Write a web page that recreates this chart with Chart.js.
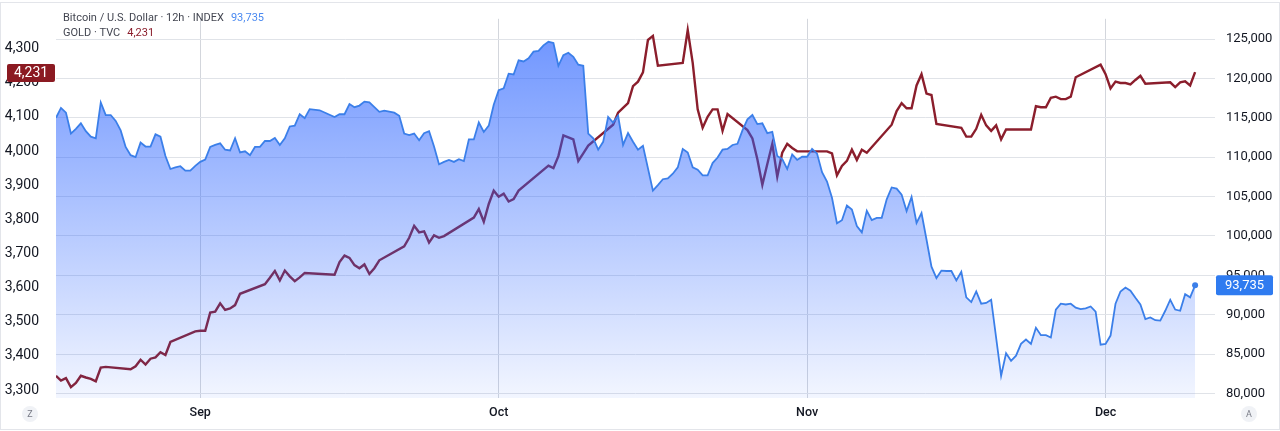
<!DOCTYPE html>
<html>
<head>
<meta charset="utf-8">
<title>Bitcoin vs Gold</title>
<script src="https://cdn.jsdelivr.net/npm/chart.js@4.4.0/dist/chart.umd.min.js"></script>
<style>
  html, body { margin: 0; padding: 0; background: #fff; }
  canvas { display: block; }
</style>
</head>
<body>
<canvas id="chart" width="1280" height="431"></canvas>
<script>
// Days counted from Sep 1 (12h bars)
const btcDays = [
  -14.5, -14, -13.5, -13, -12.5, -12, -11.5, -11, -10.5, -10,
  -9.5, -9, -8.5, -8, -7.5, -7, -6.5, -6, -5.5, -5,
  -4.5, -4, -3.5, -3, -2.5, -2, -1.5, -1, -0.5, 0,
  0.5, 1, 1.5, 2, 2.5, 3, 3.5, 4, 4.5, 5,
  5.5, 6, 6.5, 7, 7.5, 8, 8.5, 9, 9.5, 10,
  10.5, 11, 12, 13.5, 14, 14.5, 15, 15.5, 16, 16.5,
  17, 18, 18.5, 19.5, 20, 20.5, 21, 21.5, 22, 22.5,
  23, 23.5, 24, 24.5, 25, 25.5, 26, 26.5, 27, 27.5,
  28, 28.5, 29, 29.5, 30, 30.5, 31, 31.5, 32, 32.5,
  33, 33.5, 34, 34.5, 35, 35.5, 36, 36.5, 37, 37.5,
  38, 38.5, 39, 39.5, 40, 40.5, 41, 41.5, 42, 42.5,
  43, 43.5, 44, 44.5, 45.5, 46, 46.5, 47, 47.5, 48,
  48.5, 49, 49.5, 50, 50.5, 51, 51.5, 52, 52.5, 53,
  53.5, 54, 54.5, 55, 55.5, 56, 56.5, 57, 57.5, 58,
  58.5, 59, 59.5, 60, 60.5, 61, 61.5, 62, 62.5, 63,
  63.5, 64, 64.5, 65, 65.5, 66, 66.5, 67, 67.5, 68,
  68.5, 69, 69.5, 70, 70.5, 71, 71.5, 72, 72.5, 73,
  73.5, 74, 74.5, 75, 75.5, 76, 76.5, 77, 77.5, 78,
  78.5, 79, 79.5, 80.5, 81, 81.5, 82, 82.5, 83, 83.5,
  84, 84.5, 85, 85.5, 86, 86.5, 87, 87.5, 88, 88.5,
  89, 89.5, 90, 90.5, 91, 91.5, 92, 92.5, 93, 93.5,
  94, 94.5, 95, 95.5, 96, 96.5, 97, 97.5, 98, 98.5,
  99, 99.5, 100
];
const btcPrices = [
  115000, 116250, 115650, 113000, 113600, 114300, 113300, 112600, 112400, 116950,
  115350, 115350, 114600, 113400, 111300, 110250, 110000, 111850, 111350, 111350,
  112900, 112600, 110150, 108500, 108700, 108850, 108300, 108300, 108900, 109400,
  109700, 111300, 111550, 111750, 110950, 110850, 112400, 110600, 110750, 110250,
  111300, 111300, 112050, 112050, 112450, 111550, 112400, 113900, 114000, 115450,
  114950, 116100, 115950, 115100, 115450, 115450, 116750, 116350, 116550, 117050,
  116950, 115750, 115900, 115650, 115250, 113000, 112800, 113000, 112150, 113050,
  113300, 111350, 109100, 109400, 109650, 109400, 109750, 109500, 112250, 112250,
  114400, 113200, 114000, 116650, 118500, 118750, 120600, 120500, 122300, 122150,
  122550, 123400, 123500, 124200, 124650, 124500, 121600, 122950, 123250, 122750,
  121750, 121600, 113000, 112400, 110950, 111950, 115100, 114400, 115250, 111550,
  113050, 111950, 110950, 111450, 105750, 106450, 107200, 107300, 107900, 108700,
  111050, 110600, 108700, 108400, 107700, 107700, 109250, 109950, 110950, 111050,
  111550, 111700, 113400, 114800, 115350, 114200, 114300, 113050, 113200, 110150,
  109750, 108500, 110350, 109650, 110050, 110050, 111050, 110450, 108100, 106900,
  104850, 101600, 102000, 103850, 103350, 101250, 100450, 103200, 102000, 102300,
  102300, 104650, 106150, 106000, 105250, 103150, 104950, 101650, 102900, 99550,
  96100, 94650, 95600, 95550, 95550, 94350, 95450, 92200, 91600, 92950,
  91400, 91500, 91900, 82250, 85100, 84150, 84800, 86300, 86850, 86300,
  88350, 87400, 87400, 87100, 90650, 91400, 91300, 91400, 90900, 90700,
  90800, 91050, 90400, 86200, 86300, 87350, 91400, 92950, 93450, 93050,
  92150, 91300, 89450, 89650, 89300, 89250, 90500, 91900, 90650, 90500,
  92600, 92200, 93735
];

// Gold trades on weekdays only, so its days skip the weekends
const goldDays = [
  -14.5, -14, -13.5, -13, -12.5, -12, -11.5, -11, -10.5, -10,
  -9.5, -7, -6.5, -6, -5.5, -5, -4.5, -4, -3.5, -3,
  -0.5, 0, 0.5, 1, 1.5, 2, 2.5, 3, 3.5, 4,
  6.5, 7, 7.5, 8, 8.5, 9, 9.5, 10, 10.5, 13.5,
  14, 14.5, 15, 15.5, 16, 16.5, 17, 17.5, 18, 20.5,
  21, 21.5, 22, 22.5, 23, 23.5, 24, 24.5, 27.5, 28,
  28.5, 29, 29.5, 30, 30.5, 31, 31.5, 32, 35, 35.5,
  36, 36.5, 37, 37.5, 38, 38.5, 39, 41.5, 42, 42.5,
  43, 43.5, 44, 44.5, 45, 45.5, 46, 48.5, 49, 49.5,
  50, 50.5, 51, 51.5, 52, 52.5, 53, 55, 55.5, 56,
  56.5, 57, 57.5, 58, 58.5, 59, 59.5, 60, 63, 63.5,
  64, 64.5, 65, 65.5, 66, 66.5, 67, 69.5, 70, 70.5,
  71, 71.5, 72, 72.5, 73, 73.5, 74, 76.5, 77, 77.5,
  78, 78.5, 79, 79.5, 80, 80.5, 81, 83.5, 84, 84.5,
  85, 85.5, 86, 86.5, 87, 87.5, 88, 90.5, 91, 91.5,
  92, 92.5, 93, 93.5, 94, 94.5, 95, 97.5, 98, 98.5,
  99, 99.5, 100
];
const goldPrices = [
  3342, 3328, 3335, 3309, 3321, 3342, 3337, 3333, 3326, 3366,
  3368, 3361, 3370, 3389, 3375, 3392, 3396, 3411, 3403, 3441,
  3472, 3474, 3474, 3527, 3530, 3554, 3535, 3539, 3549, 3582,
  3610, 3629, 3649, 3621, 3650, 3633, 3619, 3630, 3643, 3638,
  3675, 3694, 3687, 3666, 3657, 3668, 3640, 3657, 3680, 3721,
  3746, 3781, 3762, 3765, 3732, 3753, 3746, 3751, 3805, 3830,
  3793, 3845, 3884, 3866, 3875, 3852, 3859, 3884, 3957, 3950,
  3985, 4046, 4040, 4034, 3971, 3993, 4016, 4077, 4112, 4126,
  4140, 4190, 4203, 4230, 4325, 4337, 4250, 4258, 4354, 4258,
  4122, 4068, 4100, 4122, 4122, 4059, 4108, 4061, 4037, 3976,
  3901, 3962, 4021, 3925, 3995, 4021, 4009, 3999, 3999, 3993,
  3929, 3956, 3971, 4004, 3974, 4004, 3995, 4077, 4117, 4140,
  4125, 4125, 4192, 4225, 4168, 4164, 4079, 4068, 4042, 4042,
  4065, 4106, 4075, 4059, 4075, 4034, 4063, 4063, 4131, 4128,
  4128, 4156, 4159, 4152, 4152, 4159, 4216, 4253, 4225, 4183,
  4203, 4199, 4199, 4195, 4208, 4220, 4197, 4201, 4187, 4201,
  4204, 4192, 4231
];

// Axis ticks
const monthTicks = [0, 30, 61, 91];
const monthLabels = ['Sep', 'Oct', 'Nov', 'Dec'];
const goldTicks = [3300, 3400, 3500, 3600, 3700, 3800, 3900, 4000, 4100, 4200, 4300];
const btcTicks = [80000, 85000, 90000, 95000, 100000, 105000, 110000, 115000, 120000, 125000];

const FONT = 'Roboto, "Noto Sans", sans-serif';
const TEXT = '#131722';
const BTC_COLOR = '#3b7fe9';
const GOLD_COLOR = '#8b1e2c';

function fmt(v) {
    return v.toLocaleString('en-US');
}

function toPoints(xs, ys) {
    return xs.map((x, i) => ({ x: x, y: ys[i] }));
}

// Area gradient under the bitcoin line
function btcFill(context) {
    const chart = context.chart;
    const area = chart.chartArea;
    if (!area) return 'rgba(41,98,255,0.3)';
    const top = chart.scales.yR.getPixelForValue(Math.max(...btcPrices));
    const g = chart.ctx.createLinearGradient(0, top, 0, area.bottom);
    g.addColorStop(0, 'rgba(41,98,255,0.66)');
    g.addColorStop(1, 'rgba(41,98,255,0.06)');
    return g;
}

function roundBox(ctx, x, y, w, h, r) {
    ctx.beginPath();
    ctx.moveTo(x + r, y);
    ctx.arcTo(x + w, y, x + w, y + h, r);
    ctx.arcTo(x + w, y + h, x, y + h, r);
    ctx.arcTo(x, y + h, x, y, r);
    ctx.arcTo(x, y, x + w, y, r);
    ctx.closePath();
}

// Frame, legend text, last-value labels and the small corner buttons
const overlay = {
    id: 'overlay',
    beforeDraw(chart) {
        const ctx = chart.ctx;
        ctx.save();
        ctx.fillStyle = '#ffffff';
        ctx.fillRect(0, 0, chart.width, chart.height);
        ctx.strokeStyle = '#e3e5ea';
        ctx.lineWidth = 1;
        ctx.strokeRect(0.5, 2.5, chart.width - 1, chart.height - 4);
        ctx.restore();
    },
    afterDraw(chart) {
        const ctx = chart.ctx;
        const lastBtc = btcPrices[btcPrices.length - 1];
        const lastGold = goldPrices[goldPrices.length - 1];
        ctx.save();

        // legend
        ctx.textBaseline = 'alphabetic';
        ctx.textAlign = 'left';
        ctx.font = '11px ' + FONT;
        const t1 = 'Bitcoin / U.S. Dollar \u00b7 12h \u00b7 INDEX';
        const t2 = 'GOLD \u00b7 TVC';
        ctx.fillStyle = '#434651';
        ctx.fillText(t1, 63, 21);
        ctx.fillText(t2, 63, 36);
        ctx.fillStyle = '#4a89f0';
        ctx.fillText(fmt(lastBtc), 63 + ctx.measureText(t1).width + 7, 21);
        ctx.fillStyle = GOLD_COLOR;
        ctx.fillText(fmt(lastGold), 63 + ctx.measureText(t2).width + 7, 36);

        // last value on the right scale
        const yb = chart.scales.yR.getPixelForValue(lastBtc);
        ctx.fillStyle = '#2f7bf0';
        roundBox(ctx, 1216, yb - 10, 57, 20, 2);
        ctx.fill();
        ctx.fillStyle = '#ffffff';
        ctx.font = '13px ' + FONT;
        ctx.textBaseline = 'middle';
        ctx.textAlign = 'center';
        ctx.fillText(fmt(lastBtc), 1244.5, yb + 0.5);

        // last value on the left scale
        const yg = chart.scales.yL.getPixelForValue(lastGold);
        ctx.fillStyle = '#8b1a22';
        roundBox(ctx, 7, yg - 8, 48, 18, 2);
        ctx.fill();
        ctx.fillStyle = '#ffffff';
        ctx.font = '14px ' + FONT;
        ctx.fillText(fmt(lastGold), 31, yg + 1.5);

        // corner buttons
        [[30, 'Z'], [1249, 'A']].forEach(([cx, letter]) => {
            ctx.beginPath();
            ctx.arc(cx, 414, 8, 0, Math.PI * 2);
            ctx.fillStyle = '#f0f2f6';
            ctx.fill();
            ctx.fillStyle = '#787b86';
            ctx.font = '9px ' + FONT;
            ctx.fillText(letter, cx, 414.5);
        });
        ctx.restore();
    }
};

new Chart(document.getElementById('chart'), {
    type: 'line',
    data: {
        datasets: [
            {
                label: 'Bitcoin / U.S. Dollar',
                data: toPoints(btcDays, btcPrices),
                yAxisID: 'yR',
                borderColor: BTC_COLOR,
                borderWidth: 1.8,
                backgroundColor: btcFill,
                fill: 'start',
                tension: 0,
                pointRadius: (c) => (c.dataIndex === btcPrices.length - 1 ? 3 : 0),
                pointBackgroundColor: BTC_COLOR,
                pointBorderWidth: 0,
                order: 0
            },
            {
                label: 'GOLD',
                data: toPoints(goldDays, goldPrices),
                yAxisID: 'yL',
                borderColor: GOLD_COLOR,
                borderWidth: 2.4,
                fill: false,
                tension: 0,
                pointRadius: 0,
                order: 1
            }
        ]
    },
    options: {
        responsive: false,
        animation: false,
        devicePixelRatio: 1,
        events: [],
        layout: { padding: { top: 4, left: 0, right: 0, bottom: 0 } },
        plugins: {
            legend: { display: false },
            tooltip: { enabled: false }
        },
        scales: {
            x: {
                type: 'linear',
                min: -14.5,
                max: 102,
                afterBuildTicks: (scale) => {
                    scale.ticks = monthTicks.map(v => ({ value: v }));
                },
                afterFit: (scale) => { scale.height = 33; },
                ticks: {
                    autoSkip: false,
                    maxRotation: 0,
                    padding: 7,
                    color: TEXT,
                    font: { family: FONT, size: 12.5, weight: '500' },
                    callback: (v) => monthLabels[monthTicks.indexOf(v)]
                },
                grid: { color: '#d3d6dc', drawTicks: false },
                border: { display: false }
            },
            yL: {
                type: 'linear',
                position: 'left',
                min: 3277,
                max: 4387,
                afterBuildTicks: (scale) => {
                    scale.ticks = goldTicks.map(v => ({ value: v }));
                },
                afterFit: (scale) => { scale.width = 56; },
                ticks: {
                    padding: 9,
                    color: TEXT,
                    font: { family: FONT, size: 14 },
                    callback: (v) => fmt(v)
                },
                grid: { display: false },
                border: { display: false }
            },
            yR: {
                type: 'linear',
                position: 'right',
                min: 79426,
                max: 127566,
                afterBuildTicks: (scale) => {
                    scale.ticks = btcTicks.map(v => ({ value: v }));
                },
                afterFit: (scale) => { scale.width = 65; },
                ticks: {
                    padding: 11,
                    color: TEXT,
                    font: { family: FONT, size: 13 },
                    callback: (v) => fmt(v)
                },
                grid: { color: '#e0e3e8', drawTicks: false },
                border: { display: false }
            }
        }
    },
    plugins: [overlay]
});
</script>
</body>
</html>
